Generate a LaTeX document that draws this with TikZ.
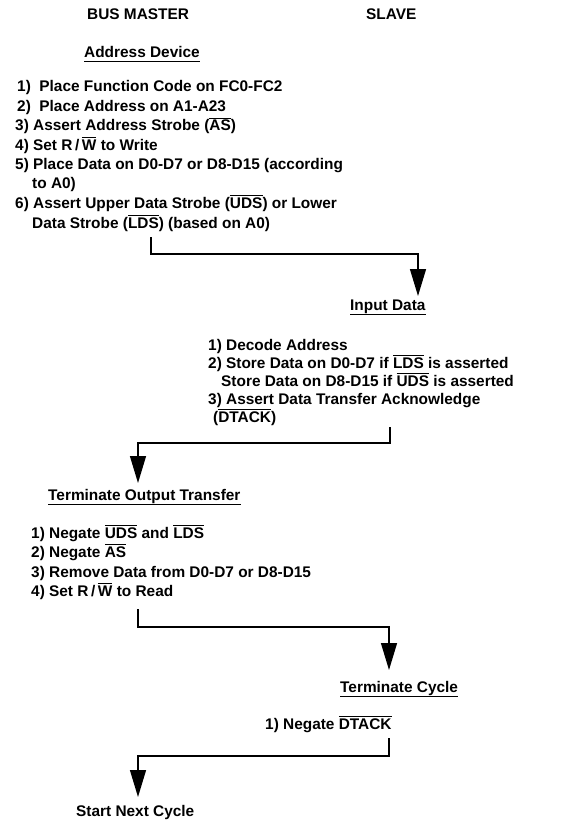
\documentclass[tikz,border=0pt]{standalone}
\usepackage{fontspec}
\setmainfont{Liberation Sans}
\usetikzlibrary{arrows.meta}
\newcommand\ovl[1]{\leavevmode\vbox{\hrule height 1pt\kern 1.7pt\hbox{#1}}}
\tikzset{
  txt/.style={font=\fontsize{15.4}{18}\selectfont\bfseries, inner sep=0pt, anchor=base west},
  uline/.style={line width=1.1pt},
  flow/.style={line width=1.3pt, -{Triangle[length=27pt,width=16pt]}},
}
\begin{document}
\begin{tikzpicture}[x=1pt,y=-1pt]
\useasboundingbox (0,0) rectangle (563,821);
% headings
\node[txt] (hm) at (87,19.5) {BUS MASTER};
\node[txt] (hs) at (366,19.5) {SLAVE};
% Address Device
\node[txt] (t1) at (84,57.5) {Address Device};
\draw[uline] ([yshift=-4pt]t1.base west) -- ([yshift=-4pt]t1.base east);
\node[txt] (a1) at (17,92) {1)\ \ Place Function Code on FC0-FC2};
\node[txt] (a2) at (17,111.5) {2)\ \ Place Address on A1-A23};
\node[txt] (a3) at (15,131) {3) Assert Address Strobe (\ovl{AS})};
\node[txt] (a4) at (15,150.5) {4) Set R\,/\,\ovl{W} to Write};
\node[txt] (a5) at (15,170) {5) Place Data on D0-D7 or D8-D15 (according};
\node[txt] (a5b) at (32,189) {to A0)};
\node[txt] (a6) at (15,208.5) {6) Assert Upper Data Strobe (\ovl{UDS}) or Lower};
\node[txt] (a6b) at (32,228) {Data Strobe (\ovl{LDS}) (based on A0)};
% arrow 1
\coordinate (c1a) at (151,237);
\coordinate (c1b) at (418,296);
\draw[flow] (c1a) -- (c1a |- 0,254) -- (c1b |- 0,254) -- (c1b);
% Input Data
\node[txt] (t2) at (350,310.5) {Input Data};
\draw[uline] ([yshift=-4pt]t2.base west) -- ([yshift=-4pt]t2.base east);
\node[txt] (b1) at (208,350) {1) Decode Address};
\node[txt] (b2) at (208,368) {2) Store Data on D0-D7 if \ovl{LDS} is asserted};
\node[txt] (b2b) at (221,386) {Store Data on D8-D15 if \ovl{UDS} is asserted};
\node[txt] (b3) at (208,404) {3) Assert Data Transfer Acknowledge};
\node[txt] (b3b) at (213,422.5) {(\ovl{DTACK})};
% arrow 2
\coordinate (c2a) at (390,427);
\coordinate (c2b) at (138,483);
\draw[flow] (c2a) -- (c2a |- 0,443) -- (c2b |- 0,443) -- (c2b);
% Terminate Output Transfer
\node[txt] (t3) at (48,500) {Terminate Output Transfer};
\draw[uline] ([yshift=-4.5pt]t3.base west) -- ([yshift=-4.5pt]t3.base east);
\node[txt] (d1) at (31,538) {1) Negate \ovl{UDS} and \ovl{LDS}};
\node[txt] (d2) at (31,557) {2) Negate \ovl{AS}};
\node[txt] (d3) at (31,577) {3) Remove Data from D0-D7 or D8-D15};
\node[txt] (d4) at (31,596) {4) Set R\,/\,\ovl{W} to Read};
% arrow 3
\coordinate (c3a) at (138,609);
\coordinate (c3b) at (389,670);
\draw[flow] (c3a) -- (c3a |- 0,627) -- (c3b |- 0,627) -- (c3b);
% Terminate Cycle
\node[txt] (t4) at (340,692) {Terminate Cycle};
\draw[uline] ([yshift=-4.5pt]t4.base west) -- ([yshift=-4.5pt]t4.base east);
\node[txt] (e1) at (265,729) {1) Negate \ovl{DTACK}};
% arrow 4
\coordinate (c4a) at (389,738);
\coordinate (c4b) at (138,797);
\draw[flow] (c4a) -- (c4a |- 0,756) -- (c4b |- 0,756) -- (c4b);
% Start Next Cycle
\node[txt] (t5) at (76,816.5) {Start Next Cycle};
\end{tikzpicture}
\end{document}
